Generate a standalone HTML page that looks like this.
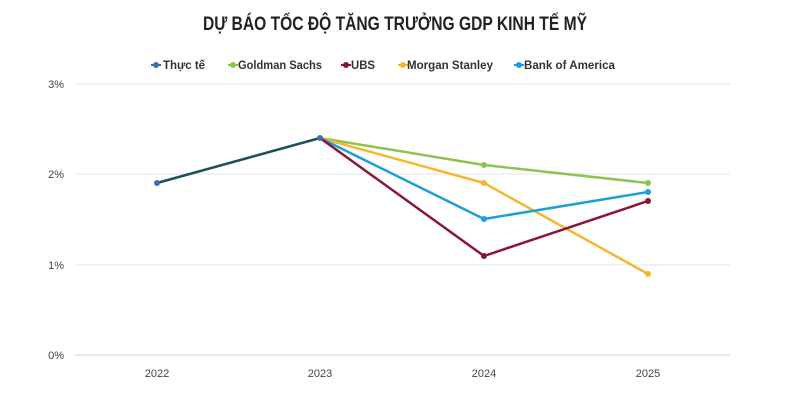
<!DOCTYPE html>
<html><head><meta charset="utf-8"><style>
body{margin:0;background:#fff;width:800px;height:404px;overflow:hidden;font-family:"Liberation Sans",sans-serif}
</style></head><body>
<svg width="800" height="404" xmlns="http://www.w3.org/2000/svg" font-family="Liberation Sans, sans-serif">
<text x="395" y="30" text-anchor="middle" font-size="19" font-weight="bold" fill="#222" textLength="384" lengthAdjust="spacingAndGlyphs">DỰ BÁO TỐC ĐỘ TĂNG TRƯỞNG GDP KINH TẾ MỸ</text>
<g font-size="12" font-weight="bold" fill="#333">
<line x1="151" y1="65" x2="161" y2="65" stroke="#3d6fb5" stroke-width="2"/><circle cx="156" cy="65" r="3" fill="#3d6fb5"/>
<text x="163" y="69" textLength="42" lengthAdjust="spacingAndGlyphs">Thực tế</text>
<line x1="228" y1="65" x2="238" y2="65" stroke="#8dc451" stroke-width="2"/><circle cx="233" cy="65" r="3" fill="#8dc451"/>
<text x="238" y="69" textLength="84" lengthAdjust="spacingAndGlyphs">Goldman Sachs</text>
<line x1="341" y1="65" x2="351" y2="65" stroke="#8b1538" stroke-width="2"/><circle cx="346" cy="65" r="3" fill="#8b1538"/>
<text x="351" y="69" textLength="24" lengthAdjust="spacingAndGlyphs">UBS</text>
<line x1="398" y1="65" x2="408" y2="65" stroke="#f4b731" stroke-width="2"/><circle cx="403" cy="65" r="3" fill="#f4b731"/>
<text x="407" y="69" textLength="86" lengthAdjust="spacingAndGlyphs">Morgan Stanley</text>
<line x1="514" y1="65" x2="524" y2="65" stroke="#1b9fd6" stroke-width="2"/><circle cx="519" cy="65" r="3" fill="#1b9fd6"/>
<text x="524" y="69" textLength="91" lengthAdjust="spacingAndGlyphs">Bank of America</text>
</g>
<g stroke="#e4e4e4" stroke-width="1">
<line x1="75" y1="84" x2="730" y2="84"/><line x1="75" y1="174" x2="730" y2="174"/>
<line x1="75" y1="265" x2="730" y2="265"/><line x1="75" y1="355" x2="730" y2="355" stroke="#d0d0d0"/>
</g>
<g font-size="11" fill="#444" text-anchor="end">
<text x="64" y="88">3%</text><text x="64" y="178">2%</text><text x="64" y="269">1%</text><text x="64" y="359">0%</text>
</g>
<g font-size="11" fill="#444" text-anchor="middle">
<text x="157" y="377">2022</text><text x="320" y="377">2023</text><text x="484" y="377">2024</text><text x="648" y="377">2025</text>
</g>
<g fill="none" stroke-width="2.5" stroke-linejoin="round">
<polyline points="320,138 484,165 648,183" stroke="#8dc451"/>
<polyline points="320,138 484,183 648,274" stroke="#f4b731"/>
<polyline points="320,138 484,219 648,192" stroke="#1b9fd6"/>
<polyline points="320,138 484,256 648,201" stroke="#8b1538"/>
<polyline points="157,183 320,138" stroke="#1f4e5f"/>
</g>
<g>
<circle cx="484" cy="165" r="3" fill="#8dc451"/><circle cx="648" cy="183" r="3" fill="#8dc451"/>
<circle cx="484" cy="183" r="3" fill="#f4b731"/><circle cx="648" cy="274" r="3" fill="#f4b731"/>
<circle cx="484" cy="219" r="3" fill="#1b9fd6"/><circle cx="648" cy="192" r="3" fill="#1b9fd6"/>
<circle cx="484" cy="256" r="3" fill="#8b1538"/><circle cx="648" cy="201" r="3" fill="#8b1538"/>
<circle cx="157" cy="183" r="3" fill="#3d6fb5"/><circle cx="320" cy="138" r="3" fill="#3d6fb5"/>
</g>
</svg>
</body></html>
